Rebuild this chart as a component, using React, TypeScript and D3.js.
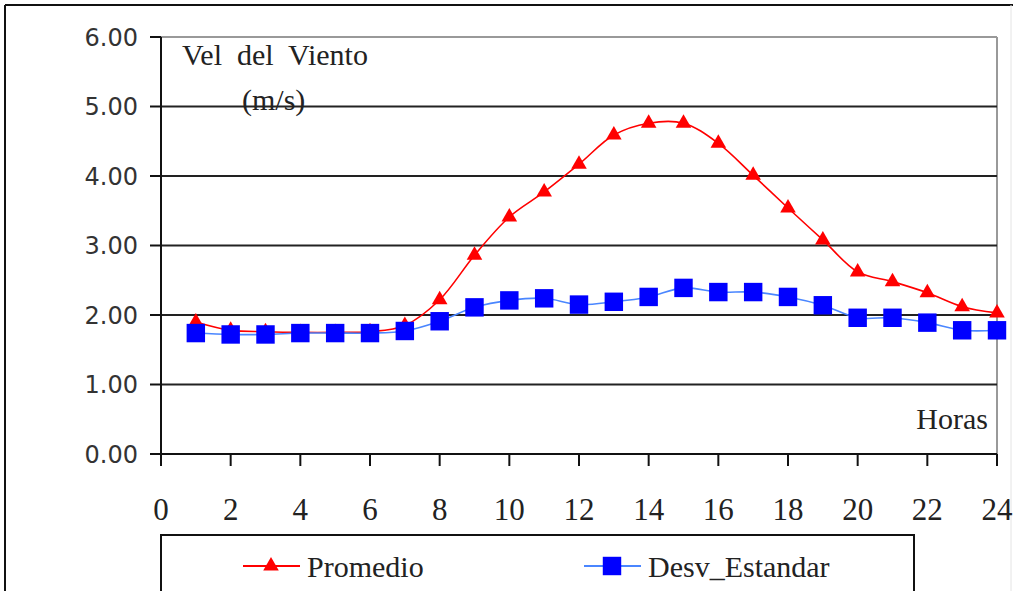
import React, {useEffect, useRef} from 'react';
import * as d3 from 'd3';

// datos
const horas = [1, 2, 3, 4, 5, 6, 7, 8, 9, 10, 11, 12, 13, 14, 15, 16, 17, 18, 19, 20, 21, 22, 23, 24];
const promedio = [1.9, 1.78, 1.76, 1.75, 1.75, 1.76, 1.85, 2.22, 2.86, 3.41, 3.77, 4.17, 4.59, 4.76, 4.76, 4.47, 4.01, 3.54, 3.08, 2.62, 2.48, 2.32, 2.12, 2.03];
const desvEstandar = [1.74, 1.72, 1.72, 1.74, 1.74, 1.74, 1.77, 1.91, 2.11, 2.21, 2.24, 2.15, 2.19, 2.26, 2.39, 2.33, 2.33, 2.26, 2.14, 1.96, 1.96, 1.89, 1.78, 1.78];
const yTicks = [0, 1, 2, 3, 4, 5, 6];
const xTicks = [0, 2, 4, 6, 8, 10, 12, 14, 16, 18, 20, 22, 24];

const W = 1013;
const H = 591;
const serif = '"Liberation Serif", "Times New Roman", serif';
const sans = '"DejaVu Sans", Verdana, sans-serif';

export default function App() {
  const ref = useRef<SVGSVGElement>(null);

  useEffect(() => {
    const svg = d3.select(ref.current);
    svg.selectAll('*').remove();

    const x = d3.scaleLinear().domain([0, 24]).range([161, 997]);
    const y = d3.scaleLinear().domain([0, 6]).range([454, 37]);

    // marco exterior
    svg.append('line').attr('x1', 5).attr('x2', W).attr('y1', 5).attr('y2', 5)
      .attr('stroke', '#111').attr('stroke-width', 2);
    svg.append('line').attr('x1', 5).attr('x2', 5).attr('y1', 5).attr('y2', H)
      .attr('stroke', '#111').attr('stroke-width', 2);
    svg.append('line').attr('x1', 1011).attr('x2', 1011).attr('y1', 5).attr('y2', H)
      .attr('stroke', '#e4e4e4').attr('stroke-width', 1);

    // area del grafico
    svg.append('line').attr('x1', x(0)).attr('x2', x(24)).attr('y1', y(6)).attr('y2', y(6))
      .attr('stroke', '#999').attr('stroke-width', 2);
    svg.append('line').attr('x1', x(24)).attr('x2', x(24)).attr('y1', y(6)).attr('y2', y(0))
      .attr('stroke', '#999').attr('stroke-width', 2);

    // lineas de division
    svg.append('g').selectAll('line')
      .data(yTicks.filter(t => t > 0 && t < 6))
      .enter().append('line')
      .attr('x1', x(0)).attr('x2', x(24))
      .attr('y1', d => y(d)).attr('y2', d => y(d))
      .attr('stroke', '#222').attr('stroke-width', 2);

    // eje Y
    const gy = svg.append('g');
    gy.append('line').attr('x1', x(0)).attr('x2', x(0)).attr('y1', y(6)).attr('y2', y(0) + 12)
      .attr('stroke', '#111').attr('stroke-width', 2);
    gy.selectAll('line.tick').data(yTicks).enter().append('line')
      .attr('class', 'tick')
      .attr('x1', x(0) - 11).attr('x2', x(0))
      .attr('y1', d => y(d)).attr('y2', d => y(d))
      .attr('stroke', '#111').attr('stroke-width', 2);
    gy.selectAll('text').data(yTicks).enter().append('text')
      .attr('x', 138).attr('y', d => y(d))
      .attr('dy', '0.36em')
      .attr('text-anchor', 'end')
      .style('font-family', sans).style('font-size', '24px').attr('fill', '#333')
      .text(d => d3.format('.2f')(d));

    // eje X
    const gx = svg.append('g');
    gx.append('line').attr('x1', x(0)).attr('x2', x(24)).attr('y1', y(0)).attr('y2', y(0))
      .attr('stroke', '#111').attr('stroke-width', 2);
    gx.selectAll('line.tick').data(xTicks).enter().append('line')
      .attr('class', 'tick')
      .attr('x1', d => x(d)).attr('x2', d => x(d))
      .attr('y1', y(0)).attr('y2', y(0) + 12)
      .attr('stroke', '#111').attr('stroke-width', 2);
    gx.selectAll('text').data(xTicks).enter().append('text')
      .attr('x', d => x(d)).attr('y', 520)
      .attr('text-anchor', 'middle')
      .style('font-family', serif).style('font-size', '31px').attr('fill', '#222')
      .text(d => d);

    // titulos
    svg.append('text').attr('x', 182).attr('y', 65)
      .attr('xml:space', 'preserve')
      .style('font-family', serif).style('font-size', '30px').attr('fill', '#222')
      .text('Vel  del  Viento');
    svg.append('text').attr('x', 242).attr('y', 110)
      .style('font-family', serif).style('font-size', '30px').attr('fill', '#222')
      .text('(m/s)');
    svg.append('text').attr('x', 988).attr('y', 429)
      .attr('text-anchor', 'end')
      .style('font-family', serif).style('font-size', '30px').attr('fill', '#222')
      .text('Horas');

    const line = d3.line<number>()
      .x((d, i) => x(horas[i]))
      .y(d => y(d))
      .curve(d3.curveCatmullRom.alpha(0.5));

    const triangle = d3.symbol().type(d3.symbolTriangle).size(105);
    const square = d3.symbol().type(d3.symbolSquare).size(340);

    // Promedio
    svg.append('path').datum(promedio)
      .attr('d', line).attr('fill', 'none')
      .attr('stroke', '#ff0000').attr('stroke-width', 1.6);
    svg.append('g').selectAll('path').data(promedio).enter().append('path')
      .attr('d', triangle)
      .attr('transform', (d, i) => `translate(${x(horas[i])},${y(d)})`)
      .attr('fill', '#ff0000');

    // Desv_Estandar
    svg.append('path').datum(desvEstandar)
      .attr('d', line).attr('fill', 'none')
      .attr('stroke', '#4a86ff').attr('stroke-width', 1.6);
    svg.append('g').selectAll('path').data(desvEstandar).enter().append('path')
      .attr('d', square)
      .attr('transform', (d, i) => `translate(${x(horas[i])},${y(d)})`)
      .attr('fill', '#0000ff');

    // leyenda
    svg.append('rect').attr('x', 161).attr('y', 535).attr('width', 753).attr('height', 100)
      .attr('fill', 'white').attr('stroke', '#111').attr('stroke-width', 2);
    const items = [
      {name: 'Promedio', color: '#ff0000', x0: 243},
      {name: 'Desv_Estandar', color: '#4a86ff', x0: 584}
    ];
    const lg = svg.append('g').selectAll('g').data(items).enter().append('g')
      .attr('transform', d => `translate(${d.x0},566)`);
    lg.append('line').attr('x1', 0).attr('x2', 57).attr('y1', 0).attr('y2', 0)
      .attr('stroke', d => d.color).attr('stroke-width', 1.8);
    lg.append('path')
      .attr('d', d => (d.name === 'Promedio' ? triangle() : square()))
      .attr('transform', 'translate(28,0)')
      .attr('fill', d => (d.name === 'Promedio' ? '#ff0000' : '#0000ff'));
    lg.append('text').attr('x', 64).attr('y', 11)
      .style('font-family', serif).style('font-size', '30px').attr('fill', '#222')
      .text(d => d.name);
  }, []);

  return (
    <svg
      ref={ref}
      width={W}
      height={H}
      style={{position: 'absolute', left: 0, top: 0, background: 'white'}}
    />
  );
}
